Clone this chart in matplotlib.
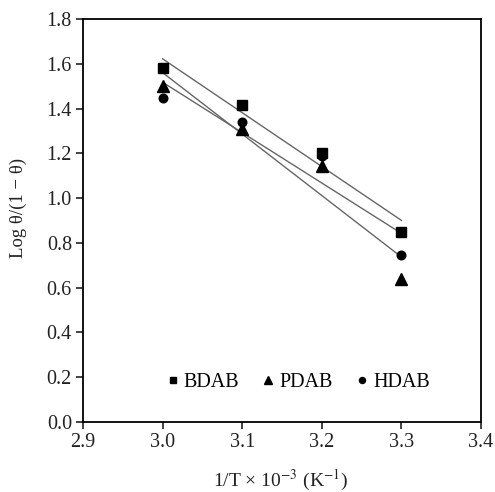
import numpy as np
import matplotlib
matplotlib.use("Agg")
import matplotlib.pyplot as plt

# 1/T x 10^-3 values
x = [3.0, 3.1, 3.2, 3.3]
bdab = [1.58, 1.415, 1.20, 0.85]
pdab = [1.50, 1.31, 1.145, 0.64]
hdab = [1.445, 1.34, 1.19, 0.745]

plt.rcParams["font.family"] = ["Liberation Serif", "DejaVu Serif"]
plt.rcParams["mathtext.fontset"] = "stix"

fig = plt.figure(figsize=(4.95, 4.92), dpi=100)
ax = fig.add_axes([0.1677, 0.1423, 0.804, 0.8191])

series = [(bdab, "s", "BDAB", 6.5), (pdab, "^", "PDAB", 8), (hdab, "o", "HDAB", 6.2)]
xx = np.array(x)
for y, m, lab, ms in series:
    # linear trend line
    k, b = np.polyfit(xx, y, 1)
    ax.plot(xx, k * xx + b, color="#666666", lw=1.0, zorder=1)
for y, m, lab, ms in series:
    ax.plot(x, y, linestyle="none", marker=m, color="black", markersize=ms, label=lab, zorder=2)

ax.set_xlim(2.9, 3.4)
ax.set_ylim(0, 1.8)
ax.set_xticks(np.arange(2.9, 3.41, 0.1))
ax.set_yticks(np.arange(0, 1.81, 0.2))
ax.xaxis.set_major_formatter(matplotlib.ticker.FormatStrFormatter("%.1f"))
ax.yaxis.set_major_formatter(matplotlib.ticker.FormatStrFormatter("%.1f"))
ax.tick_params(direction="out", length=5, width=1.2, labelsize=14.5, colors="#222222", pad=3)
for s in ax.spines.values():
    s.set_linewidth(1.3)

ax.set_xlabel("1/T × 10$^{-3}$ (K$^{-1}$)", fontsize=14, color="#222222")
ax.xaxis.set_label_coords(0.497, -0.113)
ax.set_ylabel("Log θ/(1 − θ)", fontsize=13.5, color="#222222")
ax.yaxis.set_label_coords(-0.14, 0.53)

ax.legend(loc="center", bbox_to_anchor=(0.542, 0.097), ncol=3, frameon=False,
          fontsize=14.5, handlelength=0.5, handletextpad=0.3, columnspacing=1.2,
          markerscale=0.7)

fig.savefig("out.png", dpi=100)
